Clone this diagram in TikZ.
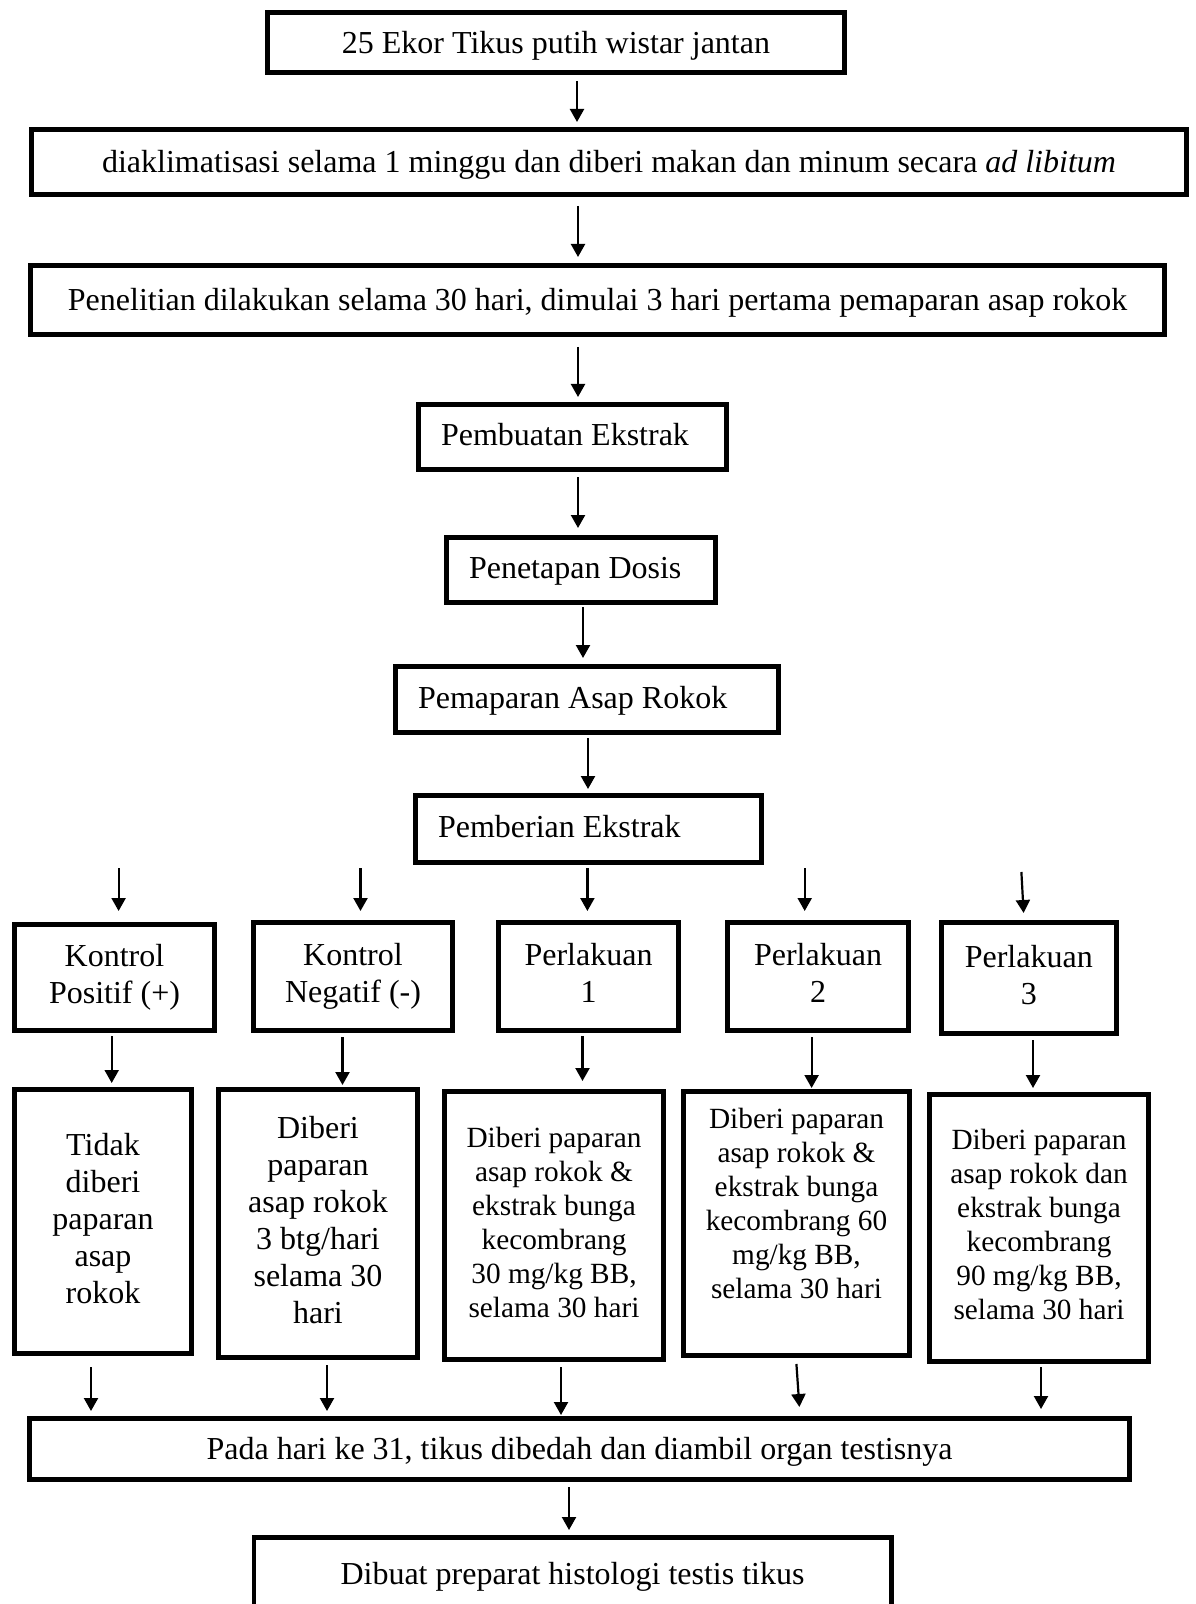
\documentclass[tikz,border=0pt]{standalone}
\usepackage{fontspec}
\setmainfont{Liberation Serif}
\usetikzlibrary{arrows.meta}
\newcommand\fntA{\fontsize{16}{18.5}\selectfont}
\newcommand\fntB{\fontsize{14.65}{17}\selectfont}
\newcommand\strA{\rule[-3.4pt]{0pt}{17.4pt}}
\newcommand\strB{\rule[-3.3pt]{0pt}{16.1pt}}
\newcommand\strC{\rule[-4pt]{0pt}{16.6pt}}
\begin{document}
\begin{tikzpicture}[x=0.5pt,y=-0.5pt,
  box/.style={draw, rectangle, line width=2.3pt, inner sep=0pt, align=center, font=\fntA,
    execute at begin node={\spaceskip=0pt\xspaceskip=0pt\strA}, execute at end node=\strA},
  sbox/.style={draw, rectangle, line width=2.3pt, inner sep=0pt, align=center, font=\fntB,
    execute at begin node={\spaceskip=0pt\xspaceskip=0pt\strB}, execute at end node=\strB},
  lbox/.style={draw, rectangle, line width=2.3pt, inner ysep=0pt, inner xsep=11.35pt, align=left, font=\fntA,
    execute at begin node={\spaceskip=0pt\xspaceskip=0pt\strC}, execute at end node=\strC},
  arr/.style={-{Triangle[length=6.5pt,width=7pt]}, line width=1.1pt}]
\useasboundingbox (0,0) rectangle (1195,1604);
\fill[white] (0,0) rectangle (1195,1604);

% main chain
\node[box, minimum width=288.7pt, minimum height=30.2pt] (b1) at (556,42.5) {25 Ekor Tikus putih wistar jantan};
\node[box, minimum width=577.7pt, minimum height=32.7pt] (b2) at (609,162) {diaklimatisasi selama 1 minggu dan diberi makan dan minum secara \textit{ad libitum}};
\node[box, minimum width=567.2pt, minimum height=34.7pt] (b3) at (597.5,300) {Penelitian dilakukan selama 30 hari, dimulai 3 hari pertama pemaparan asap rokok};
\node[lbox, minimum width=154.2pt, text width=131.5pt, minimum height=32.7pt] (b4) at (572.5,437) {Pembuatan Ekstrak};
\node[lbox, minimum width=134.7pt, text width=112pt, minimum height=32.7pt] (b5) at (581,570) {Penetapan Dosis};
\node[lbox, minimum width=191.7pt, text width=169pt, minimum height=33.2pt] (b6) at (587,699.5) {Pemaparan Asap Rokok};
\node[lbox, minimum width=173.2pt, text width=150.5pt, minimum height=33.7pt] (b7) at (588.5,829) {Pemberian Ekstrak};

% groups
\node[box, minimum width=100.2pt, minimum height=53.2pt] (kp) at (114.5,977.5) {Kontrol\\Positif (+)};
\node[box, minimum width=99.7pt, minimum height=54.2pt] (kn) at (353,976.5) {Kontrol\\Negatif (-)};
\node[box, minimum width=90.2pt, minimum height=54.2pt] (p1) at (588.5,976.5) {Perlakuan\\1};
\node[box, minimum width=90.7pt, minimum height=54.2pt] (p2) at (818,976.5) {Perlakuan\\2};
\node[box, minimum width=87.45pt, minimum height=55.7pt] (p3) at (1028.75,978) {Perlakuan\\3};

% treatments
\node[box, minimum width=88.7pt, minimum height=132.2pt] (d1) at (103,1221.5) {Tidak\\diberi\\paparan\\asap\\rokok};
\node[box, minimum width=99.7pt, minimum height=134.2pt] (d2) at (318,1223.5) {Diberi\\paparan\\asap rokok\\3 btg/hari\\selama 30\\hari};
\node[sbox, minimum width=109.7pt, minimum height=134.2pt] (d3) at (554,1225.5) {Diberi paparan\\asap rokok \&\\ekstrak bunga\\kecombrang\\30 mg/kg BB,\\selama 30 hari};
\node[sbox, minimum width=113.2pt, minimum height=132.2pt] (d4) at (796.5,1223.5) {Diberi paparan\\asap rokok \&\\ekstrak bunga\\kecombrang 60\\mg/kg BB,\\selama 30 hari\\\mbox{}};
\node[sbox, minimum width=109.7pt, minimum height=133.7pt] (d5) at (1039,1228) {Diberi paparan\\asap rokok dan\\ekstrak bunga\\kecombrang\\90 mg/kg BB,\\selama 30 hari};

% end
\node[box, minimum width=550.2pt, minimum height=30.7pt] (pada) at (579.5,1449) {Pada hari ke 31, tikus dibedah dan diambil organ testisnya};
\node[box, minimum width=318.7pt, minimum height=36.2pt] (dib) at (572.5,1573.5) {Dibuat preparat histologi testis tikus};

% arrows main chain
\draw[arr, shorten <=3pt, shorten >=2.5pt] (577,0 |- b1.south) -- (577,0 |- b2.north);
\draw[arr, shorten <=4.5pt, shorten >=3pt] (578,0 |- b2.south) -- (578,0 |- b3.north);
\draw[arr, shorten <=5pt, shorten >=2.5pt] (578,0 |- b3.south) -- (578,0 |- b4.north);
\draw[arr, shorten <=2.5pt, shorten >=3.5pt] (578,0 |- b4.south) -- (578,0 |- b5.north);
\draw[arr, shorten <=1pt, shorten >=3pt] (583,0 |- b5.south) -- (583,0 |- b6.north);
\draw[arr, shorten <=1.5pt, shorten >=2pt] (588,0 |- b6.south) -- (588,0 |- b7.north);

% arrows to groups
\draw[arr, shorten <=1.5pt, shorten >=5.5pt] (118.6,0 |- b7.south) -- (118.6,0 |- kp.north);
\draw[arr, shorten <=1.5pt, shorten >=4.5pt] (360.5,0 |- b7.south) -- (360.5,0 |- kn.north);
\draw[arr, shorten <=1.5pt, shorten >=4.5pt] (587.4,0 |- b7.south) -- (587.4,0 |- p1.north);
\draw[arr, shorten <=1.5pt, shorten >=4.5pt] (804.7,0 |- b7.south) -- (804.7,0 |- p2.north);
\draw[arr, shorten <=3.5pt, shorten >=3.5pt] (1021,0 |- b7.south) -- (1024,0 |- p3.north);

% arrows to treatments
\draw[arr, shorten <=1.5pt, shorten >=2pt] (111.7,0 |- kp.south) -- (111.7,0 |- d1.north);
\draw[arr, shorten <=2pt, shorten >=1pt] (342.5,0 |- kn.south) -- (342.5,0 |- d2.north);
\draw[arr, shorten <=1.5pt, shorten >=4pt] (582.5,0 |- p1.south) -- (582.5,0 |- d3.north);
\draw[arr, shorten <=2pt, shorten >=0.5pt] (811.6,0 |- p2.south) -- (811.6,0 |- d4.north);
\draw[arr, shorten <=2pt, shorten >=2pt] (1033,0 |- p3.south) -- (1033,0 |- d5.north);

% arrows to end
\draw[arr, shorten <=5.5pt, shorten >=2.5pt] (91,0 |- d1.south) -- (91,0 |- pada.north);
\draw[arr, shorten <=2.5pt, shorten >=2.5pt] (327,0 |- d2.south) -- (327,0 |- pada.north);
\draw[arr, shorten <=2.5pt, shorten >=0.5pt] (561,0 |- d3.south) -- (561,0 |- pada.north);
\draw[arr, shorten <=3pt, shorten >=4.5pt] (796,0 |- d4.south) -- (800,0 |- pada.north);
\draw[arr, shorten <=1.5pt, shorten >=3.5pt] (1041,0 |- d5.south) -- (1041,0 |- pada.north);
\draw[arr, shorten <=2.5pt, shorten >=2.5pt] (569,0 |- pada.south) -- (569,0 |- dib.north);
\end{tikzpicture}
\end{document}
